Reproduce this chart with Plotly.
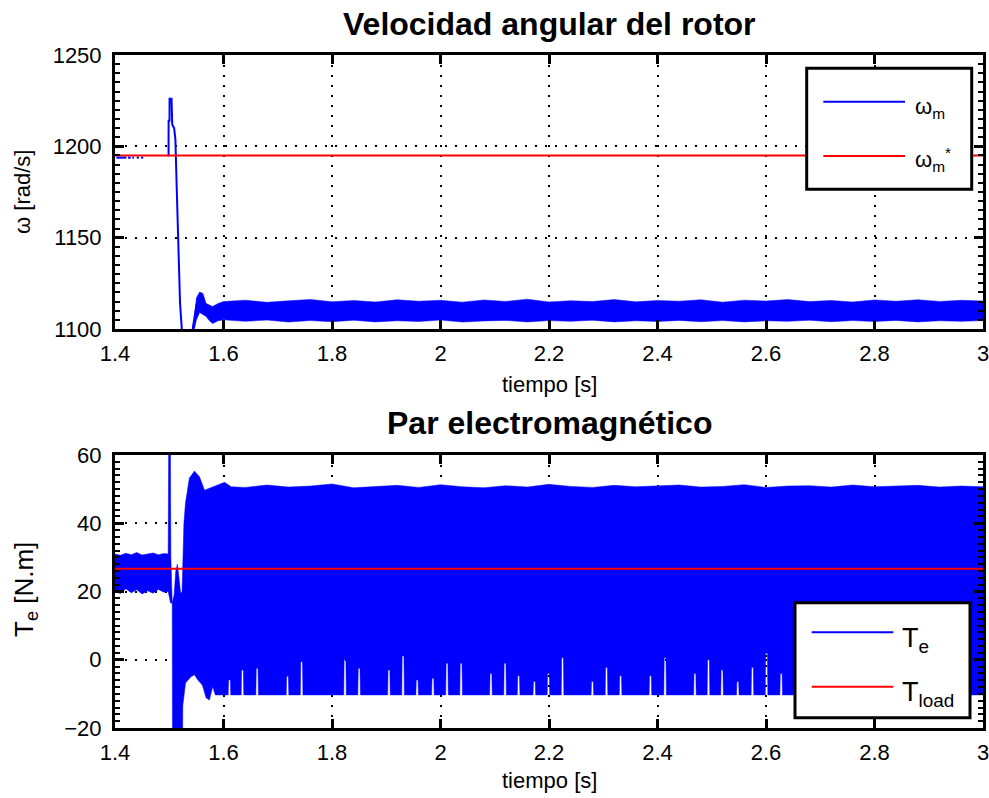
import plotly.graph_objects as go

# ---------------- data ----------------
T_MIN, T_MAX = 1.4, 3.0
x_ticks = [1.4, 1.6, 1.8, 2.0, 2.2, 2.4, 2.6, 2.8, 3.0]
x_tick_text = ["1.4", "1.6", "1.8", "2", "2.2", "2.4", "2.6", "2.8", "3"]

# speed reference and load torque (constant)
w_ref = 1195.0
t_load = 26.7

# rotor speed before the step (sparse samples)
w_pre_t = [1.4025, 1.4209, None, 1.4240, 1.4290, None, 1.4320, 1.4350, None, 1.4400, 1.4440, None, 1.4480, 1.4520]
w_pre_v = [1193.8, 1193.8, None, 1193.8, 1193.8, None, 1193.8, 1193.8, None, 1193.8, 1193.8, None, 1193.8, 1193.8]

# rotor speed transient
w_tr_t = [1.4987, 1.4988, 1.5005, 1.5006, 1.5042, 1.5055, 1.5090, 1.5113, 1.5137, 1.5168, 1.5199, 1.5236, 1.5300, 1.5380, 1.5432, 1.5500, 1.5587]
w_tr_v = [1194.4, 1214.0, 1214.0, 1226.0, 1226.0, 1212.0, 1210.0, 1204.0, 1178.0, 1142.0, 1114.0, 1098.0, 1088.0, 1090.0, 1100.0, 1113.0, 1119.5]

# rotor speed ripple band (upper / lower envelope)
w_band_t = [1.545, 1.550, 1.556, 1.562, 1.568, 1.574, 1.580, 1.590, 1.600, 1.640, 1.680, 1.720, 1.760, 1.800,
            1.840, 1.880, 1.920, 1.960, 2.000, 2.040, 2.080, 2.120, 2.160, 2.200, 2.240, 2.280, 2.320, 2.360,
            2.400, 2.440, 2.480, 2.520, 2.560, 2.600, 2.640, 2.680, 2.720, 2.760, 2.800, 2.840, 2.880, 2.920,
            2.960, 3.000]
w_band_hi = [1100.0, 1117.0, 1120.2, 1119.5, 1114.0, 1113.0, 1112.3, 1114.0, 1115.0, 1115.8, 1114.6, 1115.4, 1116.2, 1114.9,
             1115.6, 1114.8, 1116.0, 1115.2, 1115.7, 1114.7, 1115.9, 1115.1, 1116.3, 1114.8, 1115.5, 1115.0, 1116.1, 1114.9,
             1115.6, 1115.2, 1116.0, 1114.7, 1115.8, 1115.3, 1116.1, 1115.0, 1115.6, 1114.8, 1115.9, 1115.2, 1116.0, 1115.1,
             1115.7, 1115.3]
w_band_lo = [1098.0, 1104.9, 1109.0, 1108.0, 1106.8, 1104.5, 1103.0, 1104.5, 1105.0, 1104.2, 1104.9, 1103.8, 1104.6, 1104.0,
             1104.8, 1103.9, 1104.5, 1104.1, 1104.9, 1103.8, 1104.4, 1104.7, 1103.9, 1104.6, 1104.2, 1104.8, 1103.9, 1104.5,
             1104.1, 1104.7, 1104.0, 1104.6, 1103.9, 1104.5, 1104.2, 1104.8, 1104.0, 1104.6, 1104.1, 1104.7, 1103.9, 1104.5,
             1104.2, 1104.6]

# electromagnetic torque: upper envelope of the ripple band
te_hi_t = [1.400, 1.410, 1.420, 1.430, 1.440, 1.450, 1.460, 1.470, 1.480, 1.490, 1.4980, 1.4985, 1.4990, 1.5020,
           1.5030, 1.5055, 1.5090, 1.5120, 1.5150, 1.5180, 1.5210, 1.5236, 1.5270, 1.5300, 1.5370, 1.5465, 1.5557,
           1.5650, 1.5740, 1.5860, 1.6020, 1.6140, 1.6400, 1.6800, 1.7200, 1.7600, 1.8000, 1.8400, 1.8800, 1.9200,
           1.9600, 2.0000, 2.0400, 2.0800, 2.1200, 2.1600, 2.2000, 2.2400, 2.2800, 2.3200, 2.3600, 2.4000, 2.4400,
           2.4800, 2.5200, 2.5600, 2.6000, 2.6400, 2.6800, 2.7200, 2.7600, 2.8000, 2.8400, 2.8800, 2.9200, 2.9600,
           3.0000]
te_hi_v = [31.0, 30.6, 31.2, 30.8, 31.4, 30.7, 31.0, 31.3, 30.8, 31.1, 31.0, 40.0, 66.0, 66.0,
           30.0, 16.6, 19.0, 26.0, 28.0, 24.0, 19.5, 20.0, 40.0, 46.0, 53.2, 55.3, 53.6,
           49.7, 50.3, 51.0, 52.0, 50.7, 50.5, 51.2, 50.6, 50.9, 51.5, 50.4, 50.8, 51.1,
           50.5, 51.3, 50.7, 50.4, 51.0, 50.6, 51.4, 50.8, 50.5, 51.1, 50.7, 50.9, 51.2,
           50.6, 50.8, 51.3, 50.5, 50.9, 51.0, 50.6, 51.2, 50.7, 50.8, 51.1, 50.6, 50.9,
           50.7]

# electromagnetic torque: lower envelope (start-up part)
te_lo_t = [1.400, 1.410, 1.420, 1.430, 1.440, 1.450, 1.460, 1.470, 1.480, 1.490, 1.4980, 1.5024, 1.5055,
           1.5060, 1.5245, 1.5250, 1.5300, 1.5400, 1.5465, 1.5530, 1.5610, 1.5680, 1.5740, 1.5800, 1.5850]
te_lo_v = [20.0, 19.4, 20.8, 19.6, 20.5, 19.3, 20.2, 19.5, 20.6, 19.8, 20.0, 16.6, 16.6,
           -25.0, -25.0, -13.5, -6.8, -5.0, -4.4, -6.0, -7.4, -11.2, -11.8, -7.9, -10.3]
te_floor = -10.3
te_floor_end = 3.0

# upward spikes of the lower envelope (time, peak value)
te_spike_t = [1.557, 1.611, 1.635, 1.662, 1.718, 1.744, 1.824, 1.850, 1.905, 1.931, 1.957, 1.986,
              2.012, 2.038, 2.093, 2.119, 2.144, 2.173, 2.199, 2.225, 2.280, 2.306, 2.332, 2.387,
              2.414, 2.469, 2.494, 2.519, 2.548, 2.575, 2.601, 2.628]
te_spike_v = [4.0, -5.9, -3.0, -2.5, -4.8, -0.6, 0.0, -2.5, -3.0, 1.1, -5.9, -5.4,
              -1.0, -1.0, -4.0, -1.0, -4.7, -6.4, -4.0, 0.6, -6.4, -2.3, -4.7, -4.7,
              0.6, -4.0, 0.0, -3.0, -6.4, -2.3, 1.9, -4.0]

# ---------------- build the envelope polygons ----------------
BLUE = "#0000FF"
RED = "#FF0000"
HALF = 0.0024   # spike half width at the foot (s)
TOP = 0.0016    # spike half width at the tip (s)

lo_pts = list(zip(te_lo_t, te_lo_v))
for ts, pv in zip(te_spike_t, te_spike_v):
    if ts < 1.585:
        continue
    lo_pts += [(ts - HALF, te_floor), (ts - TOP, pv), (ts + TOP, pv), (ts + HALF, te_floor)]
lo_pts += [(te_floor_end, te_floor)]
lo_pts.sort(key=lambda p: p[0])

te_poly_x = list(te_hi_t) + [p[0] for p in reversed(lo_pts)]
te_poly_y = list(te_hi_v) + [p[1] for p in reversed(lo_pts)]

w_poly_x = list(w_band_t) + list(reversed(w_band_t))
w_poly_y = list(w_band_hi) + list(reversed(w_band_lo))

fig = go.Figure()

# ----- top: rotor speed -----
fig.add_trace(go.Scatter(x=w_poly_x, y=w_poly_y, mode="lines", fill="toself", fillcolor=BLUE,
                         line=dict(color=BLUE, width=0.5), xaxis="x", yaxis="y", showlegend=False,
                         hoverinfo="skip"))
fig.add_trace(go.Scatter(x=w_tr_t, y=w_tr_v, mode="lines", line=dict(color=BLUE, width=2),
                         xaxis="x", yaxis="y", showlegend=False))
fig.add_trace(go.Scatter(x=[T_MIN, T_MAX], y=[w_ref, w_ref], mode="lines", line=dict(color=RED, width=2),
                         xaxis="x", yaxis="y", showlegend=False))
fig.add_trace(go.Scatter(x=w_pre_t, y=w_pre_v, mode="lines", line=dict(color=BLUE, width=2),
                         xaxis="x", yaxis="y", showlegend=False, connectgaps=False))

# ----- bottom: torque -----
fig.add_trace(go.Scatter(x=te_poly_x, y=te_poly_y, mode="lines", fill="toself", fillcolor=BLUE,
                         line=dict(color=BLUE, width=0.5), xaxis="x2", yaxis="y2", showlegend=False,
                         hoverinfo="skip"))
fig.add_trace(go.Scatter(x=[T_MIN, T_MAX], y=[t_load, t_load], mode="lines", line=dict(color=RED, width=2),
                         xaxis="x2", yaxis="y2", showlegend=False))

FONT = "Arial, 'Liberation Sans', sans-serif"
GRID_DASH = "2px,8px"

def xaxis_cfg(anchor):
    return dict(range=[T_MIN, T_MAX], tickvals=x_ticks, ticktext=x_tick_text,
                showline=True, linecolor="black", linewidth=3, mirror="ticks",
                ticks="inside", ticklen=9, tickwidth=3, tickcolor="black",
                showgrid=True, gridcolor="black", gridwidth=1.5, griddash=GRID_DASH,
                zeroline=False, anchor=anchor, domain=[0, 1], automargin=False,
                ticklabeloverflow="allow",
                tickfont=dict(family=FONT, size=22, color="black"), ticklabelstandoff=3)

def yaxis_cfg(anchor, rng, dtick, minor_dtick, domain):
    return dict(range=rng, dtick=dtick, showline=True, linecolor="black", linewidth=3, mirror="ticks",
                ticks="inside", ticklen=9, tickwidth=3, tickcolor="black",
                minor=dict(ticks="inside", ticklen=5, tickwidth=2, tickcolor="black", dtick=minor_dtick, showgrid=False),
                showgrid=True, gridcolor="black", gridwidth=1.5, griddash=GRID_DASH,
                zeroline=False, anchor=anchor, domain=domain, automargin=False,
                ticklabeloverflow="allow",
                tickfont=dict(family=FONT, size=22, color="black"), ticklabelstandoff=6)

W, H = 989, 798
ML, MR, MT, MB = 115, 6, 55, 70
PW = W - ML - MR
PH = H - MT - MB
top_dom = [(728 - 329) / PH, 1.0]
bot_dom = [0.0, (728 - 455) / PH]

fig.update_layout(
    width=W, height=H, margin=dict(l=ML, r=MR, t=MT, b=MB, autoexpand=False),
    paper_bgcolor="white", plot_bgcolor="white",
    xaxis=xaxis_cfg("y"), yaxis=yaxis_cfg("x", [1100, 1250], 50, 5, top_dom),
    xaxis2=xaxis_cfg("y2"), yaxis2=yaxis_cfg("x2", [-20, 60], 20, 2, bot_dom),
    showlegend=False, font=dict(family=FONT, color="black"),
)

def dx(px):
    return (px - ML) / PW

def dy_top(py):
    return (329 - py) / 274

def dy_bot(py):
    return (728 - py) / 273

ann = []
# titles
ann.append(dict(text="<b>Velocidad angular del rotor</b>", x=0.5, y=dy_top(24), xref="x domain", yref="y domain",
                showarrow=False, font=dict(size=32, family=FONT), xanchor="center", yanchor="middle"))
ann.append(dict(text="<b>Par electromagnético</b>", x=0.5, y=dy_bot(423), xref="x2 domain", yref="y2 domain",
                showarrow=False, font=dict(size=32, family=FONT), xanchor="center", yanchor="middle"))
# axis titles
ann.append(dict(text="tiempo [s]", x=0.5, y=dy_top(384), xref="x domain", yref="y domain",
                showarrow=False, font=dict(size=22, family=FONT), xanchor="center", yanchor="middle"))
ann.append(dict(text="tiempo [s]", x=0.5, y=dy_bot(780), xref="x2 domain", yref="y2 domain",
                showarrow=False, font=dict(size=22, family=FONT), xanchor="center", yanchor="middle"))
ann.append(dict(text="ω [rad/s]", x=dx(22), y=dy_top(192), xref="x domain", yref="y domain",
                showarrow=False, font=dict(size=22, family=FONT), textangle=-90, xanchor="center", yanchor="middle"))
ann.append(dict(text="T<sub>e</sub> [N.m]", x=dx(25), y=dy_bot(590), xref="x2 domain", yref="y2 domain",
                showarrow=False, font=dict(size=26, family=FONT), textangle=-90, xanchor="center", yanchor="middle"))

shapes = []
# legend (top)
shapes.append(dict(type="rect", xref="x domain", yref="y domain",
                   x0=dx(806.7), x1=dx(971.7), y0=dy_top(189.3), y1=dy_top(68.3),
                   line=dict(color="black", width=3), fillcolor="white", layer="above"))
for py, col in [(101.7, BLUE), (156.0, RED)]:
    shapes.append(dict(type="line", xref="x domain", yref="y domain",
                       x0=dx(823.3), x1=dx(905), y0=dy_top(py), y1=dy_top(py),
                       line=dict(color=col, width=2), layer="above"))
ann.append(dict(text="ω<sub>m</sub>", x=dx(913), y=dy_top(108), xref="x domain", yref="y domain",
                showarrow=False, font=dict(size=22, family=FONT), xanchor="left", yanchor="middle"))
ann.append(dict(text="ω<sub>m</sub><sup>*</sup>", x=dx(913), y=dy_top(159), xref="x domain", yref="y domain",
                showarrow=False, font=dict(size=22, family=FONT), xanchor="left", yanchor="middle"))
# legend (bottom)
shapes.append(dict(type="rect", xref="x2 domain", yref="y2 domain",
                   x0=dx(795), x1=dx(970), y0=dy_bot(717.7), y1=dy_bot(602.7),
                   line=dict(color="black", width=3), fillcolor="white", layer="above"))
for py, col in [(632.3, BLUE), (686.7, RED)]:
    shapes.append(dict(type="line", xref="x2 domain", yref="y2 domain",
                       x0=dx(811.7), x1=dx(893.3), y0=dy_bot(py), y1=dy_bot(py),
                       line=dict(color=col, width=2), layer="above"))
ann.append(dict(text="T<sub>e</sub>", x=dx(900), y=dy_bot(640), xref="x2 domain", yref="y2 domain",
                showarrow=False, font=dict(size=27, family=FONT), xanchor="left", yanchor="middle"))
ann.append(dict(text="T<sub>load</sub>", x=dx(900), y=dy_bot(694), xref="x2 domain", yref="y2 domain",
                showarrow=False, font=dict(size=27, family=FONT), xanchor="left", yanchor="middle"))

fig.update_layout(annotations=ann, shapes=shapes)

fig.write_html("out.html")
